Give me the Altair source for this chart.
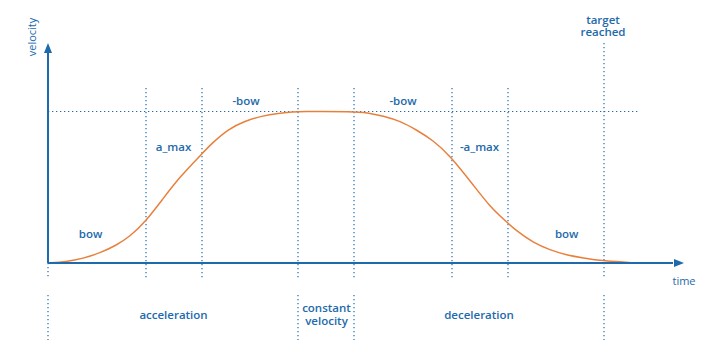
import altair as alt
import pandas as pd

# --- velocity profile (time, velocity) ---
curve_t = [0, 18, 35, 52, 68, 82, 97.5, 115.3, 132, 153.3, 163.7, 180.3, 197, 213.7, 230.3, 247, 250,
           306, 318.7, 335.3, 352, 368.7, 385.3, 402, 425.3, 442, 458.7, 468.7, 485, 502, 518.7, 535, 555, 589]
curve_v = [0, 1.3, 4.5, 10, 17.5, 26.5, 41.3, 64.7, 86.3, 108.5, 119.5, 134, 142, 147, 149.7, 151.2, 151.5,
           151.5, 150.5, 147, 142, 133, 122.5, 107.5, 78, 56.3, 41, 32, 20.5, 13, 8, 5, 2, 0]

# phase boundaries (time)
phase_t = [0, 98, 154, 250, 306, 404, 460, 556]
phase_top = [None, 175, 175, 175, 175, 175, 175, 220]
lower_t = [0, 250, 306, 556]
v_max = 151.5
v_line_end = 590

# labels
lab_text = ["bow", "a_max", "-bow", "-bow", "-a_max", "bow"]
lab_t = [42.5, 125.5, 198, 355, 431.5, 518.7]
lab_v = [28, 115, 161, 161, 115, 28]

phase_text = ["acceleration", "constant\nvelocity", "deceleration", "target\nreached"]
phase_lab_t = [125.5, 278.5, 431, 555]
phase_lab_v = [-53, -46, -53, 242.5]

BLUE = "#1d6aac"
ORANGE = "#e8803d"
FONT = "Open Sans"

xs = alt.Scale(domain=[-40, 660])
ys = alt.Scale(domain=[-87, 255])
X = lambda f: alt.X(f, type="quantitative", scale=xs, axis=None)
Y = lambda f: alt.Y(f, type="quantitative", scale=ys, axis=None)

curve = pd.DataFrame({"t": curve_t, "v": curve_v})

upper = pd.DataFrame({"t": [t for t, top in zip(phase_t, phase_top) if top is not None],
                      "v1": [top for top in phase_top if top is not None],
                      "v2": [-15] * (len(phase_t) - 1)})
upper_axis = pd.DataFrame({"t": [0], "v1": [0], "v2": [-15]})
vlines = pd.concat([upper, upper_axis])
lower = pd.DataFrame({"t": lower_t, "v1": [-32] * 4, "v2": [-77] * 4})
hline = pd.DataFrame({"t1": [0], "t2": [v_line_end], "v": [v_max]})

axes = pd.DataFrame({"t1": [0, 0], "t2": [0, 625], "v1": [0, 0], "v2": [212, 0]})
arrows = pd.DataFrame({"t": [0, 631], "v": [215, 0],
                       "shape": ["M-0.8,1L0.8,1L0,-1Z", "M-1,-0.8L-1,0.8L1,0Z"]})

labels = pd.DataFrame({"t": lab_t, "v": lab_v, "text": lab_text})
plabels = pd.DataFrame({"t": phase_lab_t, "v": phase_lab_v, "text": phase_text})
axlabels = pd.DataFrame({"t": [-15, 636], "v": [226, -19], "text": ["velocity", "time"], "angle": [270, 0]})

dot = dict(color=BLUE, strokeWidth=1.2, strokeDash=[1.3, 2.7])

l_v = alt.Chart(vlines).mark_rule(**dot).encode(x=X("t"), y=Y("v1"), y2="v2")
l_low = alt.Chart(lower).mark_rule(**dot).encode(x=X("t"), y=Y("v1"), y2="v2")
l_h = alt.Chart(hline).mark_rule(**dot).encode(x=X("t1"), x2="t2", y=Y("v"))
l_axes = alt.Chart(axes).mark_rule(color=BLUE, strokeWidth=2).encode(
    x=X("t1"), x2="t2", y=Y("v1"), y2="v2")
l_arrows = alt.Chart(arrows).mark_point(filled=True, color=BLUE, size=100, opacity=1).encode(
    x=X("t"), y=Y("v"), shape=alt.Shape("shape:N", scale=None))
l_curve = alt.Chart(curve).mark_line(color=ORANGE, strokeWidth=1.5, interpolate="basis").encode(
    x=X("t"), y=Y("v"))
l_lab = alt.Chart(labels).mark_text(color=BLUE, font=FONT, fontSize=11.5, fontWeight=600,
                                    baseline="middle").encode(x=X("t"), y=Y("v"), text="text")
l_plab = alt.Chart(plabels).mark_text(color=BLUE, font=FONT, fontSize=11.5, fontWeight=600,
                                      baseline="middle", lineBreak="\n", lineHeight=12.5).encode(
    x=X("t"), y=Y("v"), text="text")
l_axlab = alt.Chart(axlabels).mark_text(color=BLUE, font=FONT, fontSize=11,
                                        baseline="middle").encode(
    x=X("t"), y=Y("v"), text="text", angle=alt.Angle("angle:Q", scale=None))

chart = alt.layer(l_v, l_low, l_h, l_curve, l_axes, l_arrows, l_lab, l_plab, l_axlab).properties(
    width=700, height=342, autosize="none", padding=0
).configure_view(stroke=None)

chart.save("out.html", embed_options={"renderer": "svg", "actions": False})
